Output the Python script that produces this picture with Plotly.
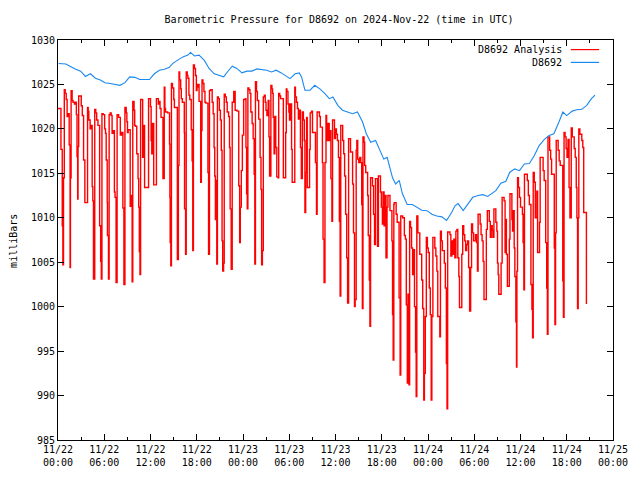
import plotly.graph_objects as go

# ---------------- data (minutes after 2024-11-22 00:00 UTC, mb) ----------------
tick_minutes = [0, 360, 720, 1080, 1440, 1800, 2160, 2520, 2880, 3240, 3600, 3960, 4320]
tick_labels = ["11/22<br>00:00", "11/22<br>06:00", "11/22<br>12:00", "11/22<br>18:00",
               "11/23<br>00:00", "11/23<br>06:00", "11/23<br>12:00", "11/23<br>18:00",
               "11/24<br>00:00", "11/24<br>06:00", "11/24<br>12:00", "11/24<br>18:00",
               "11/25<br>00:00"]
y_ticks = [985, 990, 995, 1000, 1005, 1010, 1015, 1020, 1025, 1030]

# station observations (D8692)
blue_t = [5, 61, 100, 138, 176, 214, 252, 291, 329, 366, 406, 444, 482, 521, 558, 598, 636, 674, 712, 750,
          789, 828, 864, 896, 934, 972, 1011, 1032, 1062, 1098, 1139, 1176, 1216, 1254, 1290, 1318, 1356, 1392, 1432, 1470,
          1509, 1548, 1584, 1624, 1662, 1698, 1738, 1770, 1806, 1846, 1878, 1896, 1922, 1962, 1998, 2038, 2076, 2112, 2140, 2178,
          2214, 2254, 2292, 2331, 2370, 2400, 2434, 2472, 2496, 2536, 2562, 2586, 2604, 2628, 2656, 2681, 2718, 2758, 2796, 2832,
          2872, 2910, 2949, 2988, 3024, 3064, 3090, 3114, 3154, 3192, 3228, 3270, 3306, 3345, 3370, 3408, 3447, 3486, 3516, 3554,
          3592, 3630, 3669, 3708, 3744, 3784, 3822, 3860, 3900, 3930, 3960, 4002, 4038, 4077, 4116, 4152, 4180]
blue_v = [1027.35, 1027.3, 1027.0, 1026.7, 1026.5, 1025.9, 1026.2, 1025.7, 1025.5, 1025.2,
          1025.1, 1025.0, 1024.9, 1025.2, 1025.85, 1025.8, 1025.55, 1025.55, 1025.55, 1026.2,
          1026.6, 1026.7, 1026.9, 1027.4, 1027.8, 1028.1, 1028.3, 1028.6, 1028.2, 1028.3,
          1027.7, 1026.8, 1026.2, 1026.0, 1025.85, 1026.4, 1027.05, 1026.8, 1026.3, 1026.5,
          1026.5, 1026.75, 1026.7, 1026.6, 1026.4, 1026.6, 1026.3, 1026.0, 1025.65, 1026.2,
          1026.3, 1025.85, 1024.35, 1024.35, 1024.9, 1024.5, 1024.0, 1023.4, 1023.6, 1022.65,
          1022.1, 1021.9, 1021.7, 1021.9, 1020.8, 1019.45, 1018.5, 1018.7, 1017.9, 1016.6,
          1016.8, 1015.5, 1014.5, 1013.8, 1014.2, 1012.7, 1011.5, 1011.5, 1011.15, 1010.85,
          1010.8, 1010.4, 1010.2, 1010.1, 1009.7, 1010.6, 1011.35, 1011.6, 1010.8, 1011.5,
          1012.3, 1012.5, 1012.6, 1012.4, 1012.7, 1013.05, 1013.9, 1014.1, 1015.1, 1015.5,
          1015.3, 1016.05, 1016.1, 1017.0, 1018.1, 1018.8, 1019.25, 1019.45, 1020.8, 1021.9,
          1021.5, 1022.0, 1022.15, 1022.2, 1022.65, 1023.4, 1023.8]

# analysis (D8692 Analysis), stepped
red_t_a = [0, 23, 33, 38, 43, 49, 56, 64, 71, 82, 87, 94, 97, 102, 110, 117, 128, 138, 143, 148,
           153, 156, 161, 181, 189, 199, 209, 230, 235, 240, 250, 260, 266, 271, 276, 286, 294, 301, 311, 324,
           332, 337, 342, 352, 363, 370, 375, 383, 385, 393, 398, 406, 414, 421, 429, 439, 444, 452, 460, 472,
           485, 495, 505, 513, 521, 531, 536, 541, 546, 562, 569, 577, 582, 592, 597, 603, 613, 623, 628, 633,
           638, 643, 659, 669, 674, 705, 720, 725, 730, 735, 745, 766, 781, 786, 794, 802, 817, 827, 832, 837,
           853, 868]
red_v_a = [1022.3, 1017.7, 1009.1, 1004.7, 1014.5, 1024.4, 1024.0, 1023.3, 1021.4, 1021.7,
           1018.2, 1004.4, 1014.5, 1024.3, 1023.2, 1023.0, 1022.8, 1023.0, 1021.6, 1016.9,
           1012.1, 1018.0, 1023.7, 1022.6, 1021.5, 1016.5, 1011.7, 1022.4, 1022.0, 1021.0,
           1020.0, 1020.4, 1013.5, 1011.9, 1003.1, 1022.2, 1021.8, 1021.0, 1020.4, 1009.1,
           1005.1, 1003.1, 1021.7, 1021.6, 1020.0, 1019.5, 1016.5, 1011.7, 1008.0, 1003.1,
           1021.6, 1021.8, 1021.5, 1019.5, 1019.8, 1012.9, 1012.3, 1002.7, 1021.6, 1021.3,
           1019.3, 1019.6, 1011.1, 1002.5, 1022.4, 1021.8, 1020.8, 1019.6, 1019.9, 1011.3,
           1012.5, 1002.8, 1023.1, 1022.1, 1020.4, 1020.3, 1017.2, 1014.4, 1011.2, 1006.2,
           1003.6, 1023.3, 1016.8, 1020.4, 1013.4, 1023.4, 1022.5, 1018.7, 1017.2, 1020.6,
           1013.7, 1023.4, 1022.8, 1023.1, 1022.3, 1021.3, 1014.4, 1024.7, 1022.3, 1021.9,
           1021.8, 1018.3]

red_t_b = [871, 873, 878, 883, 891, 901, 906, 929, 937, 942, 947, 955, 960, 968, 983, 985, 993, 998, 1006, 1011,
           1019, 1026, 1037, 1044, 1049, 1054, 1062, 1070, 1077, 1082, 1088, 1098, 1111, 1116, 1121, 1128, 1136, 1144, 1151, 1167,
           1172, 1179, 1187, 1200, 1208, 1215, 1220, 1225, 1231, 1236, 1241, 1248, 1256, 1264, 1271, 1277, 1282, 1289, 1294, 1302,
           1310, 1317, 1328, 1335, 1340, 1348, 1356, 1368, 1379, 1394, 1407, 1414, 1419, 1427, 1435, 1445, 1458, 1463, 1468, 1473,
           1478, 1486, 1494, 1501, 1511, 1519, 1527, 1532, 1537, 1545, 1552, 1562, 1573, 1580, 1585, 1591, 1598, 1606, 1613, 1619,
           1626, 1636, 1642, 1647, 1657, 1665, 1670, 1675, 1682, 1688, 1695, 1703, 1713, 1718, 1726, 1733]
red_v_b = [1012.3, 1007.2, 1004.6, 1025.1, 1024.6, 1023.3, 1022.4, 1005.3, 1015.9, 1026.4,
           1025.5, 1024.5, 1023.4, 1023.0, 1019.6, 1011.0, 1005.9, 1026.4, 1026.0, 1025.7,
           1023.8, 1023.3, 1019.9, 1016.4, 1006.3, 1027.2, 1026.8, 1026.0, 1024.3, 1024.7,
           1025.0, 1023.1, 1014.0, 1019.8, 1025.5, 1025.1, 1024.2, 1023.0, 1022.9, 1015.1,
           1005.9, 1024.3, 1024.4, 1023.0, 1021.7, 1017.9, 1014.7, 1009.8, 1014.2, 1004.8,
           1023.6, 1023.4, 1022.1, 1021.0, 1017.6, 1007.4, 1004.0, 1004.9, 1023.9, 1023.6,
           1023.0, 1021.9, 1021.4, 1017.9, 1011.0, 1004.2, 1023.0, 1024.2, 1022.1, 1022.0,
           1013.6, 1007.2, 1011.2, 1015.3, 1019.3, 1023.3, 1023.4, 1017.9, 1012.7, 1011.0,
           1024.6, 1024.4, 1024.0, 1021.9, 1020.6, 1018.9, 1014.9, 1004.8, 1025.3, 1024.2,
           1023.2, 1021.1, 1016.8, 1013.2, 1004.7, 1006.3, 1023.6, 1023.8, 1023.0, 1022.1,
           1021.5, 1023.2, 1019.1, 1014.7, 1024.9, 1024.5, 1024.0, 1021.3, 1017.2, 1021.4,
           1017.9, 1014.6, 1014.5, 1024.0, 1023.7, 1023.4]

red_t_c = [1754, 1772, 1777, 1782, 1790, 1797, 1802, 1808, 1818, 1823, 1843, 1848, 1856, 1864, 1871, 1879, 1887, 1894, 1902, 1910,
           1917, 1922, 1928, 1935, 1940, 1958, 1963, 1973, 1981, 2004, 2012, 2017, 2035, 2042, 2058, 2063, 2071, 2078, 2086, 2091,
           2096, 2104, 2111, 2116, 2124, 2132, 2137, 2152, 2160, 2167, 2175, 2183, 2190, 2196, 2201, 2216, 2224, 2231, 2239, 2247,
           2254, 2262, 2277, 2293, 2300, 2308, 2313, 2321, 2326, 2333, 2341, 2349, 2357, 2364, 2369, 2374, 2382, 2387, 2395, 2410,
           2415, 2423, 2428, 2433, 2448, 2456, 2464, 2471, 2487, 2494, 2510, 2517, 2525, 2530, 2538, 2545, 2553, 2561, 2568, 2584,
           2599, 2604, 2609, 2614]
red_v_c = [1014.5, 1019.6, 1024.5, 1024.2, 1022.8, 1021.9, 1021.0, 1022.8, 1017.7, 1014.0,
           1024.7, 1023.6, 1023.0, 1022.3, 1021.1, 1022.1, 1017.9, 1014.4, 1021.9, 1021.0,
           1018.7, 1010.6, 1015.1, 1021.3, 1013.4, 1017.7, 1021.8, 1022.0, 1019.6, 1016.2,
           1010.4, 1021.9, 1021.4, 1020.2, 1016.2, 1007.6, 1002.7, 1016.2, 1021.5, 1020.6,
           1018.7, 1020.6, 1018.7, 1019.8, 1014.4, 1009.6, 1021.0, 1018.9, 1020.0, 1019.4,
           1018.7, 1016.8, 1009.6, 1001.2, 1020.4, 1018.7, 1017.2, 1014.7, 1010.4, 1005.5,
           1000.4, 1018.9, 1017.4, 1013.8, 1008.3, 1000.0, 1000.8, 1017.6, 1018.7, 1016.6,
           1016.2, 1016.8, 1016.2, 1011.5, 999.8, 1019.1, 1018.5, 1015.9, 1015.1, 1012.5,
           1008.0, 1003.0, 997.8, 1014.5, 1013.6, 1010.4, 1007.0, 1014.4, 1006.8, 1014.7,
           1012.9, 1011.2, 1009.3, 1012.9, 1009.1, 1012.5, 1005.5, 1011.2, 1012.5, 1010.8,
           1007.4, 999.1, 994.0, 1011.5]

red_t_d = [2617, 2632, 2640, 2655, 2663, 2668, 2683, 2696, 2704, 2711, 2719, 2724, 2732, 2737, 2744, 2752, 2760, 2767, 2775, 2783,
           2788, 2793, 2801, 2816, 2831, 2839, 2847, 2852, 2859, 2867, 2875, 2882, 2890, 2898, 2905, 2910, 2918, 2933, 2941, 2949,
           2956, 2972, 2977, 2984, 2992, 3007, 3015, 3023, 3028, 3033, 3051, 3058, 3066, 3074, 3081, 3089, 3097, 3105, 3112, 3120,
           3125, 3143, 3150, 3158, 3166, 3173, 3181, 3189, 3196, 3204, 3212, 3219, 3227, 3235, 3250, 3258, 3265, 3270, 3286, 3293,
           3301, 3309, 3316, 3334, 3342, 3357, 3365, 3372, 3380, 3385, 3393, 3408, 3416, 3421, 3426, 3431, 3449, 3457, 3472, 3480,
           3487]
red_v_d = [1011.7, 1010.4, 1009.5, 1001.0, 992.3, 1010.2, 1010.0, 1008.0, 1007.6, 1000.2,
           991.4, 1001.4, 991.2, 1009.6, 1008.9, 1006.6, 1003.6, 1006.4, 1000.0, 994.9,
           989.9, 1010.2, 1008.3, 1005.9, 1003.0, 999.8, 989.5, 992.5, 998.9, 1007.8,
           1006.6, 1006.1, 1002.1, 999.1, 989.5, 998.9, 1007.8, 1006.6, 1005.7, 1004.0,
           998.9, 996.6, 1008.5, 1007.4, 1006.3, 1004.9, 1002.1, 993.6, 988.5, 1008.4,
           1008.1, 1005.7, 1007.4, 1005.9, 1007.6, 1005.5, 1008.5, 1008.7, 1005.5, 1003.4,
           999.9, 1005.9, 1009.1, 1008.1, 1007.4, 1006.3, 1007.0, 1007.4, 1004.4, 999.5,
           1004.4, 1009.3, 1008.3, 1007.4, 1008.1, 1007.2, 1004.0, 1010.4, 1009.3, 1008.1,
           1007.4, 1005.1, 1000.8, 1008.7, 1010.8, 1009.6, 1007.8, 1009.1, 1008.6, 1007.8,
           1011.0, 1009.5, 1008.5, 1004.9, 1003.6, 1001.4, 1004.9, 1012.3, 1011.9, 1006.1,
           1009.8]

red_t_e = [3490, 3498, 3513, 3518, 3533, 3538, 3544, 3551, 3556, 3564, 3569, 3572, 3577, 3584, 3592, 3600, 3615, 3620, 3626, 3631,
           3653, 3661, 3669, 3681, 3689, 3694, 3699, 3707, 3715, 3727, 3733, 3748, 3753, 3776, 3784, 3796, 3804, 3809, 3814, 3827,
           3835, 3842, 3863, 3868, 3873, 3878, 3893, 3901, 3909, 3929, 3934, 3939, 3947, 3955, 3962, 3970, 3978, 3985, 3995, 4003,
           4018, 4026, 4034, 4039, 4044, 4049, 4054, 4062, 4077, 4085, 4092, 4113]
red_v_e = [1005.9, 1002.3, 1007.6, 1012.7, 1009.8, 1008.5, 1010.8, 1006.6, 1003.4, 998.3,
           993.2, 1004.0, 1014.5, 1013.4, 1012.3, 1011.2, 1010.4, 1007.2, 1001.9, 1014.9,
           1014.2, 1012.5, 1011.5, 1002.5, 999.7, 996.5, 1015.1, 1014.0, 1010.0, 1013.0,
           1006.1, 1009.5, 1016.8, 1015.3, 1014.2, 1007.2, 1002.1, 996.9, 1019.1, 1017.6,
           1016.6, 1014.9, 1006.6, 998.0, 1008.3, 1018.7, 1017.6, 1016.4, 1015.9, 1002.9,
           998.8, 1019.6, 1019.1, 1017.8, 1016.8, 1018.8, 1013.4, 1010.0, 1020.1, 1019.1,
           1017.8, 1016.8, 1013.4, 1010.0, 999.8, 1010.0, 1020.0, 1019.4, 1018.7, 1017.9,
           1010.6, 1000.3]

red_t = red_t_a + red_t_b + red_t_c + red_t_d + red_t_e
red_v = red_v_a + red_v_b + red_v_c + red_v_d + red_v_e
assert len(red_t) == len(red_v), (len(red_t), len(red_v))
assert len(blue_t) == len(blue_v), (len(blue_t), len(blue_v))

RED = "#ff0000"
BLUE = "#1a88f0"
FONT = "DejaVu Sans Mono"

# page body adds an 8px offset; figure sized to fit the 640x480 window
W, H = 632, 472

fig = go.Figure()
fig.add_trace(go.Scatter(x=red_t, y=red_v, mode="lines", line=dict(color=RED, width=1.4, shape="hv"),
                         name="D8692 Analysis", showlegend=False))
fig.add_trace(go.Scatter(x=blue_t, y=blue_v, mode="lines", line=dict(color=BLUE, width=1.1),
                         name="D8692", showlegend=False))

axis_common = dict(showline=True, linecolor="black", linewidth=1, mirror="allticks",
                   ticks="inside", ticklen=6, tickwidth=1, tickcolor="black",
                   showgrid=False, zeroline=False,
                   tickfont=dict(family=FONT, size=10, color="black"))

fig.update_xaxes(range=[0, 4320], tickmode="array", tickvals=tick_minutes, ticktext=tick_labels,
                 minor=dict(ticks="inside", ticklen=3, dtick=180, tick0=0, tickcolor="black"),
                 **axis_common)
fig.update_yaxes(range=[985, 1030], tickmode="array", tickvals=y_ticks,
                 ticktext=[str(v) for v in y_ticks], **axis_common)

# legend (gnuplot style: text then line sample)
legend_rows = [("D8692 Analysis", RED, 0.976), ("D8692", BLUE, 0.944)]
annotations = []
shapes = []
for label, col, yy in legend_rows:
    annotations.append(dict(text=label, x=0.912, y=yy, xref="paper", yref="paper",
                            xanchor="right", yanchor="middle", showarrow=False,
                            font=dict(family=FONT, size=10, color="black")))
    shapes.append(dict(type="line", xref="paper", yref="paper", x0=0.924, x1=0.975, y0=yy, y1=yy,
                       line=dict(color=col, width=1.2)))

annotations.append(dict(text="milliBars", x=-0.0795, y=0.4975, xref="paper", yref="paper",
                        textangle=-90, xanchor="center", yanchor="middle", showarrow=False,
                        font=dict(family=FONT, size=10, color="black")))

fig.update_layout(
    width=W, height=H,
    margin=dict(l=50, r=16, t=32, b=40),
    paper_bgcolor="white", plot_bgcolor="white",
    title=dict(text="Barometric Pressure for D8692 on 2024-Nov-22 (time in UTC)",
               x=331 / W, xref="container", xanchor="center",
               y=(H - 11) / H, yref="container", yanchor="middle",
               font=dict(family=FONT, size=10, color="black")),
    annotations=annotations, shapes=shapes,
    showlegend=False,
)

fig.write_html("out.html")
